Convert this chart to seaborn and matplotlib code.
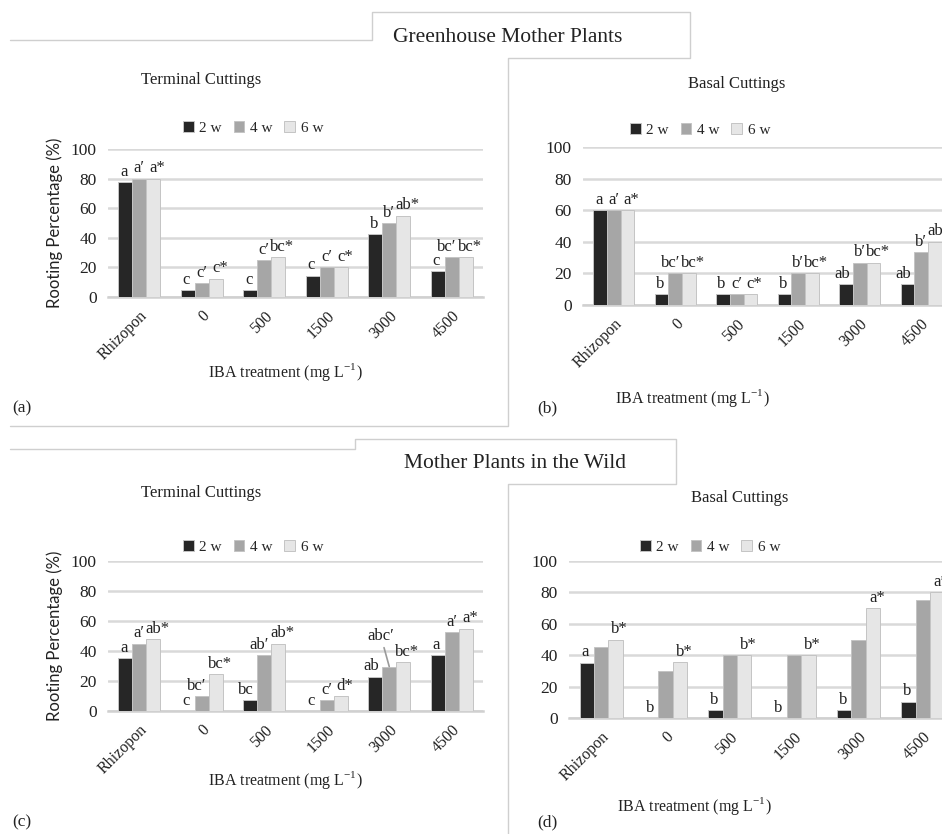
import matplotlib
matplotlib.use("Agg")
import matplotlib.pyplot as plt
from matplotlib.lines import Line2D
import pandas as pd
import seaborn as sns

# categories / series
treatments = ["Rhizopon", "0", "500", "1500", "3000", "4500"]
weeks = ["2 w", "4 w", "6 w"]

# (a) greenhouse, terminal cuttings
gh_term_2w = [77.5, 4.5, 4.5, 14.4, 42.5, 17.3]
gh_term_4w = [80, 9.5, 24.8, 20, 50, 27]
gh_term_6w = [80, 12.4, 27, 20, 55, 27]
gh_term_lab = [["a", "c", "c", "c", "b", "c"],
               ["a′", "c′", "c′", "c′", "b′", "bc′"],
               ["a*", "c*", "bc*", "c*", "ab*", "bc*"]]

# (b) greenhouse, basal cuttings
gh_bas_2w = [60, 6.7, 6.7, 6.7, 13.3, 13.3]
gh_bas_4w = [60, 20, 6.7, 20, 26.7, 33.3]
gh_bas_6w = [60, 20, 6.7, 20, 26.7, 40]
gh_bas_lab = [["a", "b", "b", "b", "ab", "ab"],
              ["a′", "bc′", "c′", "b′", "b′", "b′"],
              ["a*", "bc*", "c*", "bc*", "bc*", "ab*"]]

# (c) wild, terminal cuttings
wd_term_2w = [35.2, 0, 7.4, 0, 22.9, 37.2]
wd_term_4w = [45, 10, 37.2, 7.4, 29.6, 52.7]
wd_term_6w = [47.8, 24.7, 45, 10, 32.5, 55]
wd_term_lab = [["a", "c", "bc", "c", "ab", "a"],
               ["a′", "bc′", "ab′", "c′", "abc′", "a′"],
               ["ab*", "bc*", "ab*", "d*", "bc*", "a*"]]

# (d) wild, basal cuttings
wd_bas_2w = [35.3, 0, 5, 0, 5, 10.4]
wd_bas_4w = [45, 30, 40, 40, 50, 75]
wd_bas_6w = [50, 35.5, 40, 40, 70, 80]
wd_bas_lab = [["a", "b", "b", "b", "b", "b"],
              ["", "", "", "", "", ""],
              ["b*", "b*", "b*", "b*", "a*", "a*"]]

colors = ["#262626", "#a6a6a6", "#e6e6e6"]
serif = ["Liberation Serif", "DejaVu Serif"]
ink = "#222222"

sns.set_theme(style="white")
plt.rcParams["font.family"] = serif
plt.rcParams["mathtext.fontset"] = "custom"
plt.rcParams["mathtext.rm"] = "Liberation Serif"

W, H = 942, 834
fig = plt.figure(figsize=(W / 100, H / 100), dpi=100)


def frac(x0, y0, x1, y1):
    # pixel box (top-left origin) -> figure fraction rect
    return [x0 / W, 1 - y1 / H, (x1 - x0) / W, (y1 - y0) / H]


def panel(rect, v2, v4, v6, labels, ylabel, leg_xy):
    df = pd.DataFrame({
        "treatment": treatments * 3,
        "week": [w for w in weeks for _ in treatments],
        "value": v2 + v4 + v6,
    })
    ax = fig.add_axes(rect)
    sns.barplot(data=df, x="treatment", y="value", hue="week", order=treatments,
                hue_order=weeks, palette=colors, width=0.67, saturation=1,
                edgecolor="#c4c4c4", linewidth=0.7, ax=ax, zorder=3)
    ax.set_ylim(0, 100)
    ax.set_xlim(-0.5, len(treatments) - 0.5)
    ax.set_yticks(range(0, 101, 20))
    ax.yaxis.grid(True, color="#d9d9d9", lw=1.8, zorder=0)
    ax.set_axisbelow(True)
    for s in ["top", "right", "left"]:
        ax.spines[s].set_visible(False)
    ax.spines["bottom"].set_color("#d0d0d0")
    ax.spines["bottom"].set_linewidth(1.8)
    ax.tick_params(axis="y", length=0, labelsize=12.5, colors=ink, pad=8)
    ax.tick_params(axis="x", length=0, labelsize=11.5, colors=ink, pad=8)
    for t in ax.get_xticklabels():
        t.set_rotation(45)
        t.set_ha("right")
        t.set_rotation_mode("anchor")
    ax.set_xlabel("")
    ax.set_ylabel(ylabel, fontsize=12, color=ink, labelpad=6,
                  family=["Lato", "DejaVu Sans"])
    shifts = [-0.1, 0.0, 0.3]
    for i, (cont, labs) in enumerate(zip(ax.containers, labels)):
        for bar, lab in zip(cont, labs):
            if not lab:
                continue
            w = bar.get_width()
            sh = shifts[i]
            if len(lab) >= 2 and i == 0:
                sh = -0.3
            if len(lab) == 3 and i == 1:
                sh = -0.35
            x = bar.get_x() + w / 2 + sh * w
            y = bar.get_height() + 1.5
            if len(lab) > 3:
                # long label lifted up with a leader line
                ax.annotate(lab, xy=(bar.get_x() + w / 2, bar.get_height()),
                            xytext=(-6, 16), textcoords="offset points",
                            ha="center", va="bottom", fontsize=12, color=ink,
                            arrowprops=dict(arrowstyle="-", color="#9a9a9a",
                                            lw=1.2, shrinkA=0, shrinkB=0))
            else:
                ax.text(x, y, lab, ha="center", va="bottom", fontsize=12,
                        color=ink, clip_on=False)
    ax.legend(loc="center", bbox_to_anchor=leg_xy, bbox_transform=fig.transFigure,
              ncol=3, frameon=False, fontsize=11, handlelength=0.7,
              handleheight=0.7, handletextpad=0.35, columnspacing=0.8)
    return ax


panel(frac(108, 149, 483, 297), gh_term_2w, gh_term_4w, gh_term_6w, gh_term_lab,
      "Rooting Percentage (%)", (253 / W, 1 - 128 / H))
panel(frac(583, 147, 952, 305), gh_bas_2w, gh_bas_4w, gh_bas_6w, gh_bas_lab,
      "", (700 / W, 1 - 130 / H))
panel(frac(108, 561, 483, 711), wd_term_2w, wd_term_4w, wd_term_6w, wd_term_lab,
      "Rooting Percentage (%)", (253 / W, 1 - 547 / H))
panel(frac(569, 561, 955, 718), wd_bas_2w, wd_bas_4w, wd_bas_6w, wd_bas_lab,
      "", (710 / W, 1 - 547 / H))


def ftext(x, y, s, size, **kw):
    fig.text(x / W, 1 - y / H, s, fontsize=size, ha="center", va="center",
             color=ink, **kw)


xlab = "IBA treatment (mg L$^{\\mathregular{-1}}$)"
ftext(508, 37, "Greenhouse Mother Plants", 15.5)
ftext(201, 80, "Terminal Cuttings", 12)
ftext(737, 84, "Basal Cuttings", 12)
ftext(285, 372, xlab, 11.5)
ftext(692, 398, xlab, 11.5)
ftext(22, 408, "(a)", 12.5)
ftext(547, 408, "(b)", 12.5)

ftext(515, 463, "Mother Plants in the Wild", 15.5)
ftext(201, 493, "Terminal Cuttings", 12)
ftext(740, 498, "Basal Cuttings", 12)
ftext(285, 780, xlab, 11.5)
ftext(694, 806, xlab, 11.5)
ftext(22, 822, "(c)", 12.5)
ftext(547, 822, "(d)", 12.5)

# panel frame lines
frame = [
    [(10, 40), (372, 40), (372, 12), (690, 12), (690, 58), (508, 58), (508, 426), (10, 426)],
    [(10, 449), (355, 449), (355, 439), (676, 439), (676, 484), (508, 484), (508, 834)],
]
for pts in frame:
    xs = [p[0] / W for p in pts]
    ys = [1 - p[1] / H for p in pts]
    fig.add_artist(Line2D(xs, ys, color="#cfcfcf", lw=1))

fig.savefig("out.png", dpi=100)
